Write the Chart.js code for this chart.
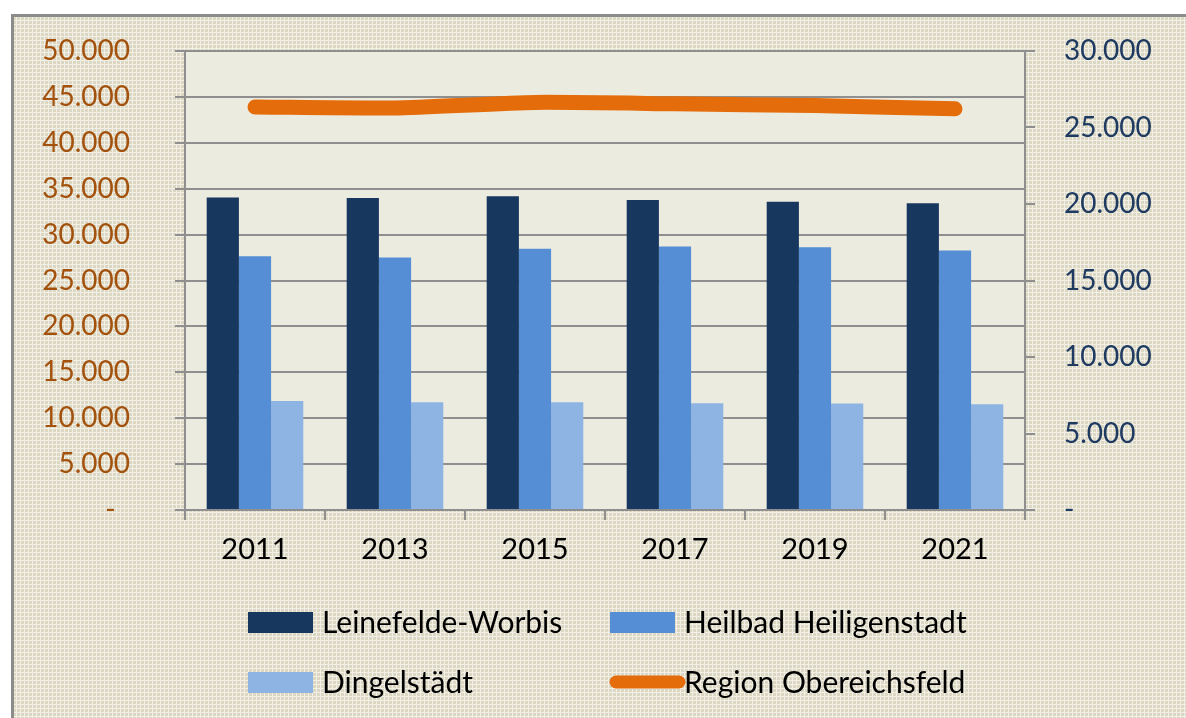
<!DOCTYPE html>
<html>
<head>
<meta charset="utf-8">
<script src="https://cdn.jsdelivr.net/npm/chart.js@4.4.1/dist/chart.umd.min.js"></script>
<style>
  html, body { margin: 0; padding: 0; background: #fff; }
  #wrap { width: 1186px; height: 718px; }
</style>
</head>
<body>
<div id="wrap"><canvas id="chart" width="1186" height="718"></canvas></div>
<script>
const years = ["2011", "2013", "2015", "2017", "2019", "2021"];
const leinefeldeWorbis = [20420, 20390, 20500, 20260, 20150, 20050];
const heiligenstadt = [16590, 16500, 17070, 17220, 17180, 16960];
const dingelstaedt = [7130, 7040, 7040, 6980, 6960, 6910];
const obereichsfeld = [43900, 43800, 44400, 44250, 44050, 43700];

const FONT = "Lato, 'Open Sans', sans-serif";
const GRID = "#8f8f8f";

// Zahlen im deutschen Format, 0 als Strich
function fmt(v) {
  return String(v).replace(/\B(?=(\d{3})+(?!\d))/g, ".");
}

function makePattern(ctx) {
  const tile = document.createElement("canvas");
  tile.width = 4;
  tile.height = 4;
  const t = tile.getContext("2d");
  t.fillStyle = "#f1efe6";
  t.fillRect(0, 0, 4, 4);
  t.fillStyle = "#dbd7c2";
  t.fillRect(1, 1, 3, 3);
  return ctx.createPattern(tile, "repeat");
}

const backgroundPlugin = {
  id: "backgroundPlugin",
  beforeDraw(chart) {
    const { ctx, chartArea } = chart;
    ctx.save();
    ctx.fillStyle = "#ffffff";
    ctx.fillRect(0, 0, chart.width, chart.height);
    ctx.fillStyle = makePattern(ctx);
    ctx.fillRect(11, 14, chart.width - 11, chart.height - 14);
    ctx.strokeStyle = "#8c8c8c";
    ctx.lineWidth = 3;
    ctx.strokeRect(12.5, 15.5, chart.width + 10, chart.height + 10);
    ctx.fillStyle = "#ecebe0";
    ctx.fillRect(chartArea.left, chartArea.top, chartArea.right - chartArea.left, chartArea.bottom - chartArea.top);
    ctx.restore();
  },
};

// Legende in zwei Spalten, wie im Original
const gridLegend = {
  id: "gridLegend",
  afterDraw(chart) {
    const ctx = chart.ctx;
    const cols = [248, 610];
    const rows = [622, 682];
    ctx.save();
    ctx.font = "30px " + FONT;
    ctx.textBaseline = "middle";
    ctx.textAlign = "left";
    chart.data.datasets.forEach((ds, i) => {
      const x = cols[i % 2];
      const y = rows[Math.floor(i / 2)];
      if (ds.type === "line") {
        ctx.strokeStyle = ds.borderColor;
        ctx.lineWidth = 13;
        ctx.lineCap = "round";
        ctx.beginPath();
        ctx.moveTo(x + 6, y);
        ctx.lineTo(x + 69, y);
        ctx.stroke();
      } else {
        ctx.fillStyle = ds.backgroundColor;
        ctx.fillRect(x, y - 10, 65, 21);
      }
      ctx.fillStyle = "#000000";
      ctx.fillText(ds.label, x + 74, y + 1);
    });
    ctx.restore();
  },
};

// die großen Label-Abstände sollen die Plotfläche nicht verkleinern
function fixY(width) {
  return (s) => {
    s.width = width;
    s.paddingTop = 10;
    s.paddingBottom = 10;
  };
}

new Chart(document.getElementById("chart"), {
  data: {
    labels: years,
    datasets: [
      {
        type: "bar",
        label: "Leinefelde-Worbis",
        data: leinefeldeWorbis,
        backgroundColor: "#17375e",
        yAxisID: "y1",
        order: 1,
      },
      {
        type: "bar",
        label: "Heilbad Heiligenstadt",
        data: heiligenstadt,
        backgroundColor: "#558ed5",
        yAxisID: "y1",
        order: 1,
      },
      {
        type: "bar",
        label: "Dingelstädt",
        data: dingelstaedt,
        backgroundColor: "#8eb4e3",
        yAxisID: "y1",
        order: 1,
      },
      {
        type: "line",
        label: "Region Obereichsfeld",
        data: obereichsfeld,
        borderColor: "#e46c0a",
        backgroundColor: "#e46c0a",
        borderWidth: 15,
        borderCapStyle: "round",
        borderJoinStyle: "round",
        tension: 0.2,
        pointRadius: 0,
        yAxisID: "y",
        order: 0,
      },
    ],
  },
  options: {
    responsive: false,
    animation: false,
    layout: { padding: { left: 0, right: 0, top: 51, bottom: 148 } },
    datasets: {
      bar: { categoryPercentage: 0.69, barPercentage: 1.0 },
    },
    plugins: {
      legend: { display: false },
      tooltip: { enabled: false },
    },
    scales: {
      x: {
        offset: true,
        grid: { offset: true, drawOnChartArea: false, color: GRID, lineWidth: 2, tickLength: 10 },
        border: { color: GRID, width: 2 },
        ticks: { color: "#000000", padding: 12, font: { family: FONT, size: 29 } },
        afterFit: (s) => { s.height = 60; s.paddingLeft = 0; s.paddingRight = 0; },
      },
      y: {
        position: "left",
        min: 0,
        max: 50000,
        ticks: {
          stepSize: 5000,
          color: "#a3520e",
          padding: 45,
          font: { family: FONT, size: 28 },
          callback: (v) => (v === 0 ? "-  " : fmt(v)),
        },
        grid: { color: GRID, lineWidth: 2, tickLength: 10 },
        border: { color: GRID, width: 2 },
        afterFit: fixY(185),
      },
      y1: {
        position: "right",
        min: 0,
        max: 30000,
        ticks: {
          stepSize: 5000,
          color: "#1f3a60",
          padding: 29,
          font: { family: FONT, size: 28 },
          callback: (v) => (v === 0 ? "-" : fmt(v)),
        },
        grid: { drawOnChartArea: false, color: GRID, lineWidth: 2, tickLength: 10 },
        border: { color: GRID, width: 2 },
        afterFit: fixY(161),
      },
    },
  },
  plugins: [backgroundPlugin, gridLegend],
});
</script>
</body>
</html>
